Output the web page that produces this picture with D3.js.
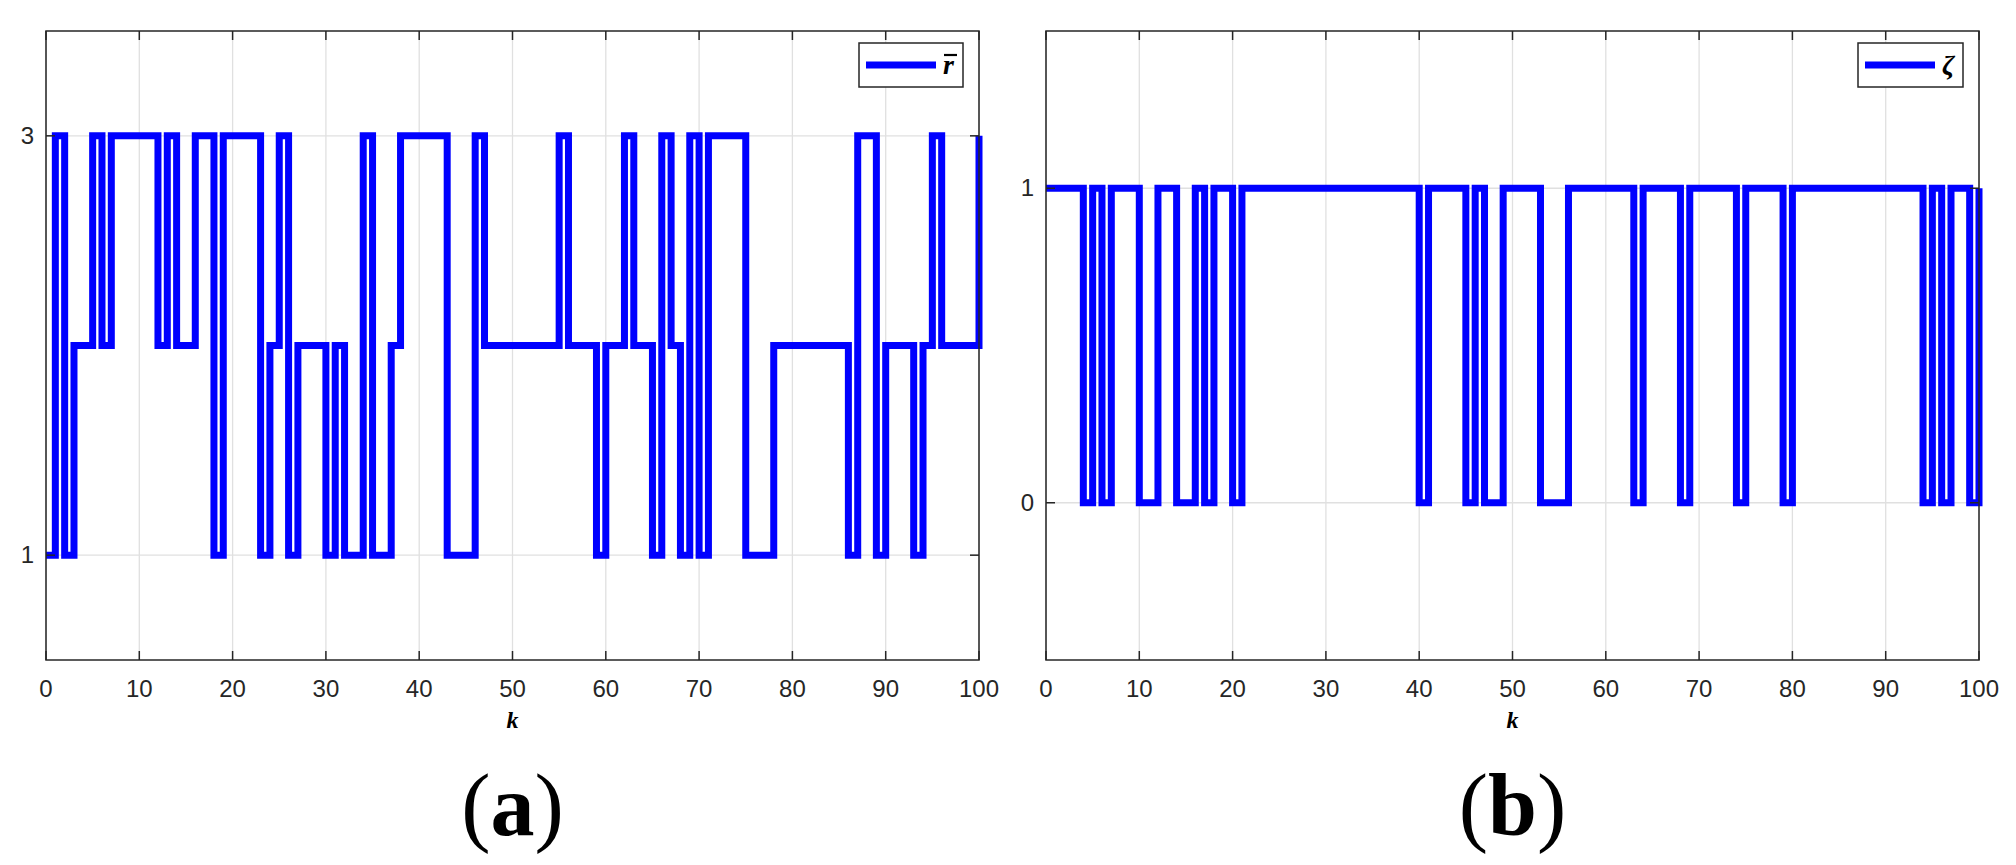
<!DOCTYPE html>
<html><head><meta charset="utf-8">
<script src="https://cdn.jsdelivr.net/npm/d3@7"></script>
<style>body{margin:0;background:#fff}</style>
</head><body>
<svg id="c" width="2016" height="865"></svg>
<script>
const kValues = d3.range(0, 101);
const xTicks = [0,10,20,30,40,50,60,70,80,90,100];
const rbar = [1,3,1,2,2,3,2,3,3,3, 3,3,2,3,2,2,3,3,1,3, 3,3,3,1,2,3,1,2,2,2, 1,2,1,1,3,1,1,2,3,3, 3,3,3,1,1,1,3,2,2,2, 2,2,2,2,2,3,2,2,2,1, 2,2,3,2,2,1,3,2,1,3, 1,3,3,3,3,1,1,1,2,2, 2,2,2,2,2,2,1,3,3,1, 2,2,2,1,2,3,2,2,2,2, 3];
const zeta = [1,1,1,1,0,1,0,1,1,1, 0,0,1,1,0,0,1,0,1,1, 0,1,1,1,1,1,1,1,1,1, 1,1,1,1,1,1,1,1,1,1, 0,1,1,1,1,0,1,0,0,1, 1,1,1,0,0,0,1,1,1,1, 1,1,1,0,1,1,1,1,0,1, 1,1,1,1,0,1,1,1,1,0, 1,1,1,1,1,1,1,1,1,1, 1,1,1,1,0,1,0,1,1,0, 1];
const yTicksA = [1,3];
const yTicksB = [0,1];

const svg = d3.select('#c');
function panel(opt){
  const x = d3.scaleLinear().domain([0,100]).range([opt.x0,opt.x1]);
  const y = d3.scaleLinear().domain(opt.yd).range([opt.y1,opt.y0]);
  const g = svg.append('g');
  // grid
  g.selectAll('.gx').data(xTicks).enter().append('line')
    .attr('x1',d=>x(d)).attr('x2',d=>x(d)).attr('y1',opt.y0).attr('y2',opt.y1)
    .attr('stroke','#e0e0e0').attr('stroke-width',1.3);
  g.selectAll('.gy').data(opt.yt).enter().append('line')
    .attr('y1',d=>y(d)).attr('y2',d=>y(d)).attr('x1',opt.x0).attr('x2',opt.x1)
    .attr('stroke','#e0e0e0').attr('stroke-width',1.3);
  // line
  const data = kValues.map((k,i)=>[k,opt.vals[i]]);
  g.append('path').datum(data)
    .attr('d',d3.line().x(d=>x(d[0])).y(d=>y(d[1])).curve(d3.curveStepAfter))
    .attr('fill','none').attr('stroke','#0000ff').attr('stroke-width',7).attr('stroke-linejoin','miter');
  // frame & ticks
  g.append('rect').attr('x',opt.x0).attr('y',opt.y0).attr('width',opt.x1-opt.x0).attr('height',opt.y1-opt.y0)
    .attr('fill','none').attr('stroke','#262626').attr('stroke-width',1.5);
  const tl=9;
  xTicks.forEach(t=>{
    g.append('line').attr('x1',x(t)).attr('x2',x(t)).attr('y1',opt.y1).attr('y2',opt.y1-tl).attr('stroke','#262626').attr('stroke-width',1.5);
    g.append('line').attr('x1',x(t)).attr('x2',x(t)).attr('y1',opt.y0).attr('y2',opt.y0+tl).attr('stroke','#262626').attr('stroke-width',1.5);
    g.append('text').attr('x',x(t)).attr('y',opt.y1+37).attr('text-anchor','middle')
      .attr('font-family','Liberation Sans Narrow, Liberation Sans, sans-serif').attr('font-size',24).attr('fill','#262626').text(t);
  });
  opt.yt.forEach(t=>{
    g.append('line').attr('x1',opt.x0).attr('x2',opt.x0+tl).attr('y1',y(t)).attr('y2',y(t)).attr('stroke','#262626').attr('stroke-width',1.5);
    g.append('line').attr('x1',opt.x1).attr('x2',opt.x1-tl).attr('y1',y(t)).attr('y2',y(t)).attr('stroke','#262626').attr('stroke-width',1.5);
    g.append('text').attr('x',opt.x0-12).attr('y',y(t)+8).attr('text-anchor','end')
      .attr('font-family','Liberation Sans Narrow, Liberation Sans, sans-serif').attr('font-size',24).attr('fill','#262626').text(t);
  });
  // x label
  g.append('text').attr('x',(opt.x0+opt.x1)/2).attr('y',opt.y1+68).attr('text-anchor','middle')
    .attr('font-family','Liberation Serif, serif').attr('font-style','italic').attr('font-weight','bold').attr('font-size',24).text('k');
  // legend
  const lx=opt.x1-opt.legW-16, ly=43;
  g.append('rect').attr('x',lx).attr('y',ly).attr('width',opt.legW).attr('height',44).attr('fill','#fff').attr('stroke','#262626').attr('stroke-width',1.5);
  g.append('line').attr('x1',lx+7).attr('x2',lx+77).attr('y1',ly+22).attr('y2',ly+22).attr('stroke','#0000ff').attr('stroke-width',7);
  g.append('text').attr('x',lx+84).attr('y',ly+31).attr('font-family','Liberation Serif, serif').attr('font-style','italic').attr('font-weight','bold').attr('font-size',28).text(opt.leg);
  if(opt.bar){ g.append('line').attr('x1',lx+85).attr('x2',lx+98).attr('y1',ly+12).attr('y2',ly+12).attr('stroke','#000').attr('stroke-width',2.2); }
  // panel label
  const pl = g.append('text').attr('x',(opt.x0+opt.x1)/2).attr('y',835).attr('text-anchor','middle')
    .attr('font-family','Liberation Serif, serif').attr('font-size',88);
  pl.append('tspan').attr('font-weight','normal').text('(');
  pl.append('tspan').attr('font-weight','bold').text(opt.lab);
  pl.append('tspan').attr('font-weight','normal').text(')');
}
panel({x0:46,x1:979,y0:31,y1:660,yd:[0.5,3.5],yt:yTicksA,vals:rbar,leg:'r',bar:true,legW:104,lab:'a'});
panel({x0:1046,x1:1979,y0:31,y1:660,yd:[-0.5,1.5],yt:yTicksB,vals:zeta,leg:'ζ',bar:false,legW:105,lab:'b'});
</script>
</body></html>
